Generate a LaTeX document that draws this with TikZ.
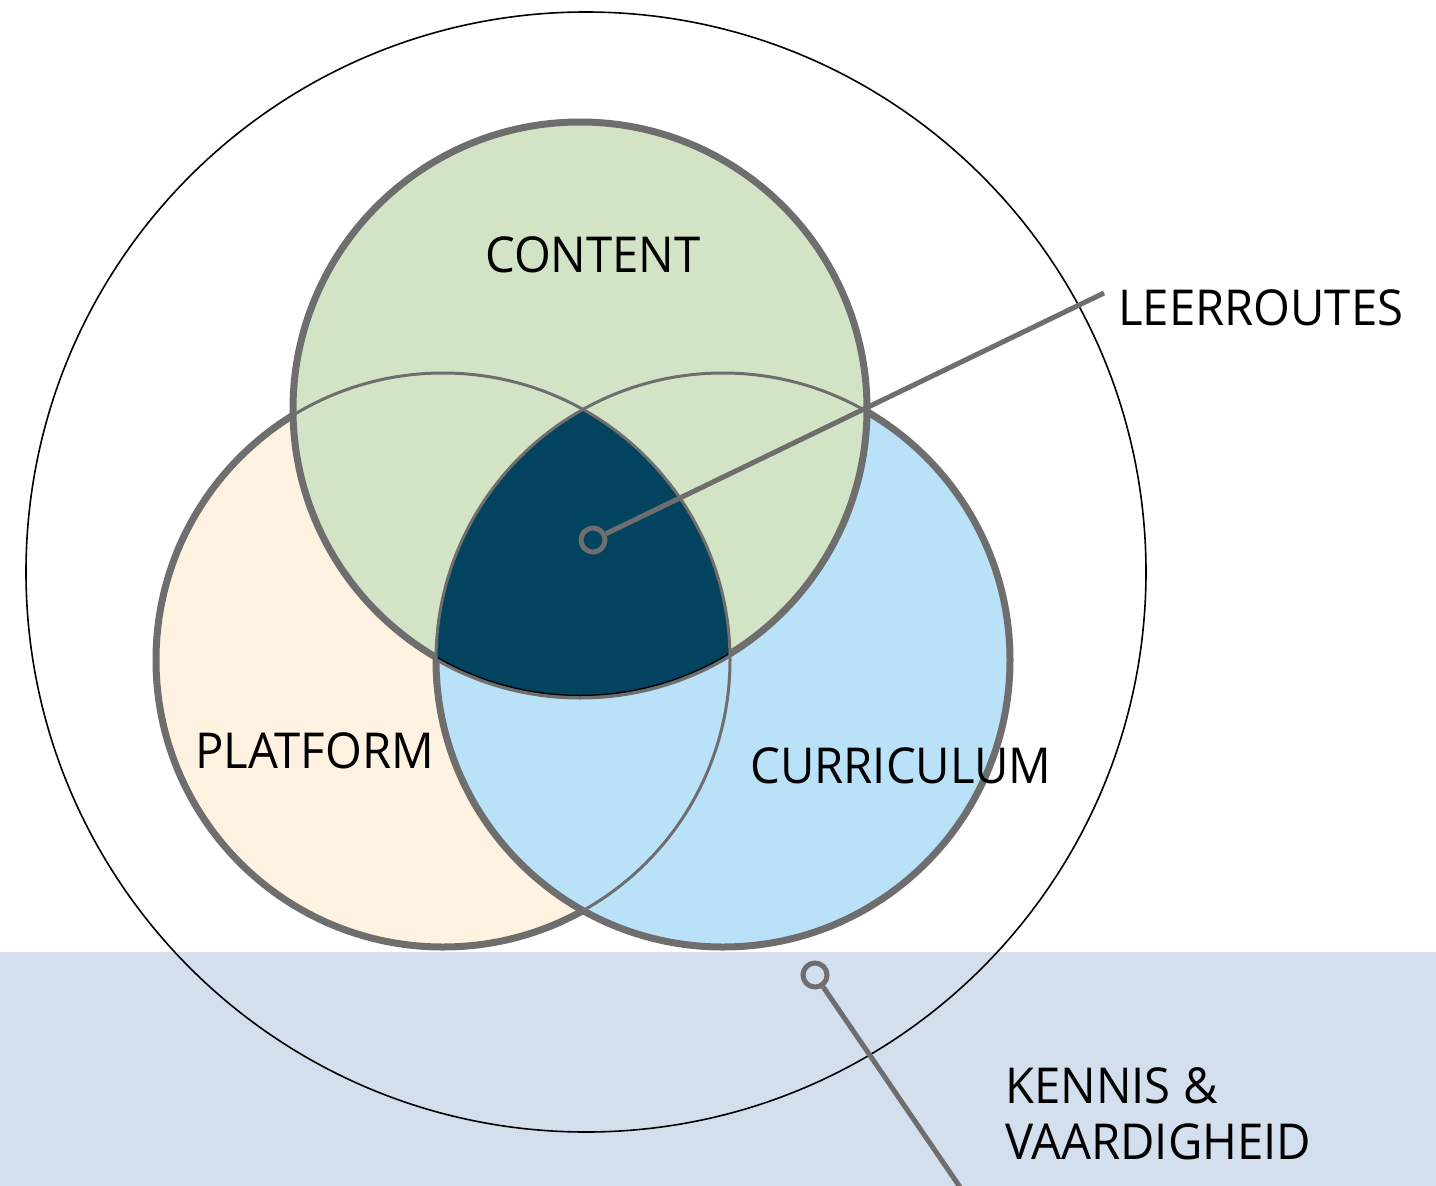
\documentclass[tikz,border=0pt]{standalone}
\usepackage{fontspec}
\setmainfont[FakeStretch=0.955]{Open Sans}
\definecolor{bandcol}{HTML}{D4DFED}
\definecolor{contentcol}{HTML}{D3E4C6}
\definecolor{platformcol}{HTML}{FFF2E0}
\definecolor{currcol}{HTML}{B9E1F8}
\definecolor{navycol}{HTML}{02445F}
\definecolor{rimcol}{HTML}{6E6E6E}
\tikzset{
  thickrim/.style={draw=rimcol, line width=7pt},
  thinrim/.style={draw=rimcol, line width=3pt},
  lbl/.style={anchor=base west, inner sep=0pt, font=\fontsize{49.5}{56}\selectfont, text=black},
  marker/.style={circle, draw=rimcol, line width=5pt, minimum size=24pt, inner sep=0pt},
  leader/.style={draw=rimcol, line width=5pt},
}
\begin{document}
\begin{tikzpicture}[x=1pt,y=-1pt]
\useasboundingbox (0,0) rectangle (1436,1186);
\fill[white] (0,0) rectangle (1436,1186);
\fill[bandcol] (0,952) rectangle (1436,1186);
\coordinate (O) at (586,572);
\coordinate (Cn) at (580,409);
\coordinate (Pl) at (443,660);
\coordinate (Cu) at (723,660);
\draw[black, line width=1.6pt] (O) circle[radius=560];
% filled circles
\path[fill=platformcol, thickrim] (Pl) circle[radius=287];
\path[fill=currcol, thickrim] (Cu) circle[radius=287];
\path[fill=contentcol, thickrim] (Cn) circle[radius=287];
% triple intersection
\begin{scope}
  \clip (Cn) circle[radius=287];
  \clip (Pl) circle[radius=287];
  \clip (Cu) circle[radius=287];
  \fill[navycol] (Cn) circle[radius=300];
  \draw[black, line width=2.5pt] (Cn) circle[radius=287] (Pl) circle[radius=287] (Cu) circle[radius=287];
\end{scope}
% thin rims
\draw[thinrim] (Pl) circle[radius=287];
\draw[thinrim] (Cu) circle[radius=287];
% labels
\node[lbl] (tcontent) at (485,272) {CONTENT};
\node[lbl] (tplatform) at (195,768) {PLATFORM};
\node[lbl] (tcurr) at (750,783) {CURRICULUM};
\node[lbl] (tleer) at (1118,325) {LEERROUTES};
\node[lbl] (tkennis1) at (1005,1103) {KENNIS \&};
\node[lbl] (tkennis2) at (1005,1159) {VAARDIGHEID};
% markers and leaders
\node[marker] (m1) at (593,540) {};
\coordinate (e1) at (1104,293);
\draw[leader] (m1) -- (e1);
\node[marker] (m2) at (815,975) {};
\coordinate (e2) at (962,1190);
\draw[leader] (m2) -- (e2);
\end{tikzpicture}
\end{document}
